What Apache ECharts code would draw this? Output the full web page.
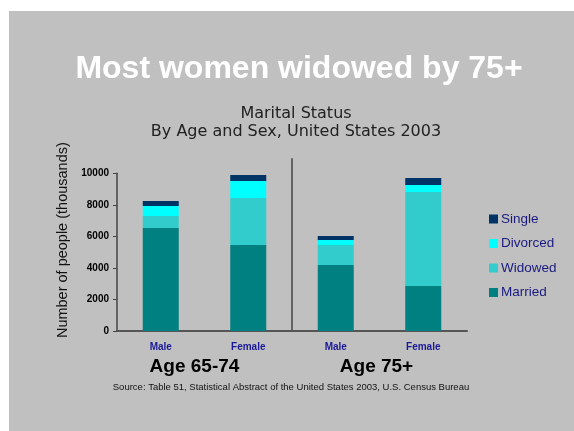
<!DOCTYPE html>
<html>
<head>
<meta charset="utf-8">
<script src="https://cdn.jsdelivr.net/npm/echarts@6/dist/echarts.min.js"></script>
<style>
  html, body { margin: 0; padding: 0; background: #ffffff; }
  #panel { position: absolute; left: 9px; top: 11px; width: 565px; height: 420px; background: #c0c0c0; }
  #chart { position: absolute; left: 0; top: 0; width: 574px; height: 431px; }
</style>
</head>
<body>
<div id="panel"></div>
<div id="chart"></div>
<script>
// Marital status of older adults, thousands of people
const categories = ['Male', 'Female', 'Male', 'Female'];
const ageGroups = ['Age 65-74', 'Age 75+'];
const married  = [6530, 5450, 4190, 2850];
const widowed  = [760, 2980, 1260, 5960];
const divorced = [640, 1080, 320, 450];
const single   = [310, 380, 250, 440];
const yTicks = [0, 2000, 4000, 6000, 8000, 10000];

const chart = echarts.init(document.getElementById('chart'), null, { renderer: 'canvas' });

const sans = '"Liberation Sans", Arial, sans-serif';

function barSeries(name, data, color) {
  return {
    name: name,
    type: 'bar',
    stack: 'total',
    data: data,
    barWidth: 36,
    itemStyle: { color: color },
    emphasis: { disabled: true }
  };
}

chart.setOption({
  backgroundColor: 'transparent',
  animation: false,
  title: [
    {
      text: 'Most women widowed by 75+',
      left: 299, top: 53, textAlign: 'center', padding: 0,
      textStyle: { color: '#ffffff', fontSize: 32, fontWeight: 'bold', fontFamily: sans }
    },
    {
      text: 'Marital Status\nBy Age and Sex, United States 2003',
      left: 296, top: 105, textAlign: 'center', padding: 0,
      textStyle: { color: '#222222', fontSize: 16, fontWeight: 'normal', fontFamily: '"DejaVu Sans", sans-serif', lineHeight: 18 }
    },
    {
      text: 'Source: Table 51, Statistical Abstract of the United States 2003, U.S. Census Bureau',
      left: 291, top: 382, textAlign: 'center', padding: 0,
      textStyle: { color: '#111111', fontSize: 9.5, fontWeight: 'normal', fontFamily: sans }
    }
  ],
  legend: {
    orient: 'vertical',
    left: 489, top: 212, padding: 0,
    data: ['Single', 'Divorced', 'Widowed', 'Married'],
    icon: 'rect',
    itemWidth: 9, itemHeight: 9,
    itemGap: 10.5,
    selectedMode: false,
    textStyle: { color: '#1a1a80', fontSize: 13.5, fontFamily: sans, lineHeight: 14, padding: [0, 0, 0, -2] }
  },
  grid: { left: 117, right: 107, top: 173.3, bottom: 100 },
  xAxis: [
    {
      type: 'category',
      data: categories,
      axisLine: { lineStyle: { color: '#555555', width: 2 } },
      axisTick: { show: false },
      axisLabel: { color: '#1a1a99', fontSize: 10, fontWeight: 'bold', fontFamily: sans, margin: 11, interval: 0 }
    },
    {
      type: 'category',
      data: ageGroups,
      position: 'bottom',
      axisLine: { show: false },
      axisTick: { show: false },
      axisLabel: {
        color: '#000000', fontSize: 19, fontWeight: 'bold', fontFamily: sans, margin: 26, interval: 0,
        formatter: (v, i) => (i === 0 ? '{a|' + v + '}' : '{b|' + v + '}'),
        rich: {
          a: { color: '#000000', fontSize: 19, fontWeight: 'bold', fontFamily: sans, padding: [0, 20, 0, 0] },
          b: { color: '#000000', fontSize: 19, fontWeight: 'bold', fontFamily: sans, padding: [0, 6, 0, 0] }
        }
      }
    }
  ],
  yAxis: {
    type: 'value',
    min: yTicks[0], max: yTicks[yTicks.length - 1], interval: 2000,
    name: 'Number of people (thousands)',
    nameLocation: 'middle',
    nameRotate: 90,
    nameGap: 47,
    nameTextStyle: { color: '#111111', fontSize: 14.5, fontFamily: sans, padding: [0, 0, 0, 24] },
    axisLine: { show: true, lineStyle: { color: '#444444', width: 1.5 } },
    axisTick: { show: true, length: 4, lineStyle: { color: '#444444' } },
    splitLine: { show: false },
    axisLabel: {
      color: '#000000', fontSize: 10, fontWeight: 'bold', fontFamily: sans, margin: 8,
      formatter: (v) => String(v)
    }
  },
  series: [
    barSeries('Married', married, '#008080'),
    barSeries('Widowed', widowed, '#33cccc'),
    barSeries('Divorced', divorced, '#00ffff'),
    barSeries('Single', single, '#003366')
  ]
});

// Vertical rule separating the two age groups, placed from the axis scales
const dividerTopValue = 10950;
const xLeft = chart.convertToPixel({ xAxisIndex: 0 }, 1);
const xRight = chart.convertToPixel({ xAxisIndex: 0 }, 2);
const xMid = (xLeft + xRight) / 2;
const yTop = chart.convertToPixel({ yAxisIndex: 0 }, dividerTopValue);
const yBottom = chart.convertToPixel({ yAxisIndex: 0 }, 0);
chart.setOption({
  graphic: [{
    type: 'line',
    shape: { x1: xMid, y1: yTop, x2: xMid, y2: yBottom },
    style: { stroke: '#444444', lineWidth: 1.5 },
    silent: true
  }]
});
</script>
</body>
</html>
